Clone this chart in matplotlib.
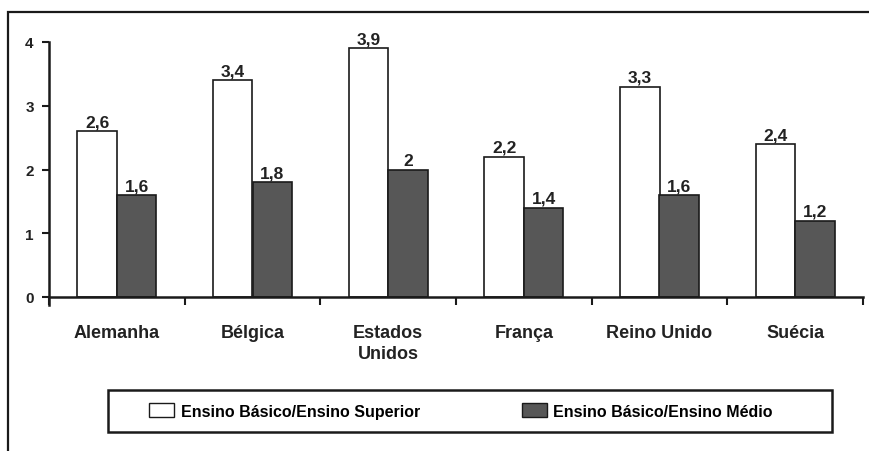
import matplotlib
matplotlib.use("Agg")
import matplotlib.pyplot as plt
from matplotlib.patches import Rectangle, Patch
import numpy as np

categories = ["Alemanha", "Bélgica", "Estados\nUnidos", "França", "Reino Unido", "Suécia"]
superior = [2.6, 3.4, 3.9, 2.2, 3.3, 2.4]
medio = [1.6, 1.8, 2.0, 1.4, 1.6, 1.2]
labels_superior = ["2,6", "3,4", "3,9", "2,2", "3,3", "2,4"]
labels_medio = ["1,6", "1,8", "2", "1,4", "1,6", "1,2"]
series_names = ["Ensino Básico/Ensino Superior", "Ensino Básico/Ensino Médio"]
yticks = [0, 1, 2, 3, 4]

plt.rcParams['font.family'] = ['Liberation Sans', 'DejaVu Sans']

W, H = 869, 452
fig = plt.figure(figsize=(W / 100, H / 100), dpi=100)
fig.patch.set_facecolor("white")

# outer frame (left and top visible)
fig.add_artist(Rectangle((8 / W, -0.05), 1.1, 1 - 13 / H + 0.05, transform=fig.transFigure,
                         fill=False, edgecolor="#1a1a1a", linewidth=1.6))

ymin = -0.12
unit = (298 - 43) / 4.0
ax = fig.add_axes([49 / W, 1 - (298 - ymin * unit) / H, (863 - 49) / W, (4 - ymin) * unit / H])
x = np.arange(len(categories))
bw = 0.29
dark = "#575757"
ax.bar(x - bw / 2, superior, bw, color="white", edgecolor="#1a1a1a", linewidth=1.2)
ax.bar(x + bw / 2, medio, bw, color=dark, edgecolor="#1a1a1a", linewidth=1.2)

for xi, v, t in zip(x, superior, labels_superior):
    ax.text(xi - bw / 2, v + 0.03, t, ha="center", va="bottom", fontsize=12.5,
            fontweight="bold", color="#222222")
for xi, v, t in zip(x, medio, labels_medio):
    ax.text(xi + bw / 2, v + 0.03, t, ha="center", va="bottom", fontsize=12.5,
            fontweight="bold", color="#222222")

ax.set_xlim(-0.5, len(categories) - 0.5)
ax.set_ylim(ymin, 4)
ax.set_yticks(yticks)
ax.set_yticklabels([str(t) for t in yticks], fontsize=11, fontweight="bold", color="#222222")
ax.set_xticks(np.arange(len(categories) + 1) - 0.5)
ax.set_xticklabels([])
ax.spines["bottom"].set_position(("data", 0))
ax.tick_params(axis="x", direction="out", length=6, width=1.5, color="#1a1a1a")
ax.tick_params(axis="y", direction="out", length=5, width=1.5, color="#1a1a1a", pad=6)
for xi, c in zip(x, categories):
    ax.text(xi, -0.42, c, ha="center", va="top", fontsize=13, fontweight="bold",
            color="#222222", linespacing=1.3)

for s in ["top", "right"]:
    ax.spines[s].set_visible(False)
for s in ["left", "bottom"]:
    ax.spines[s].set_linewidth(1.8)
    ax.spines[s].set_color("#1a1a1a")

# legend box
fig.add_artist(Rectangle((108 / W, 1 - 433 / H), (832 - 108) / W, (433 - 391) / H,
                         transform=fig.transFigure, fill=False, edgecolor="#1a1a1a", linewidth=1.8))
fig.legend(handles=[Patch(facecolor="white", edgecolor="#1a1a1a", label=series_names[0]),
                    Patch(facecolor=dark, edgecolor="#1a1a1a", label=series_names[1])],
           loc="center", bbox_to_anchor=(461 / W, 1 - 412 / H), ncol=2, frameon=False,
           columnspacing=6.4, handlelength=1.55, handleheight=0.9, handletextpad=0.4,
           prop={"size": 11.5, "weight": "bold"})

fig.savefig("out.png", dpi=100, facecolor="white")
